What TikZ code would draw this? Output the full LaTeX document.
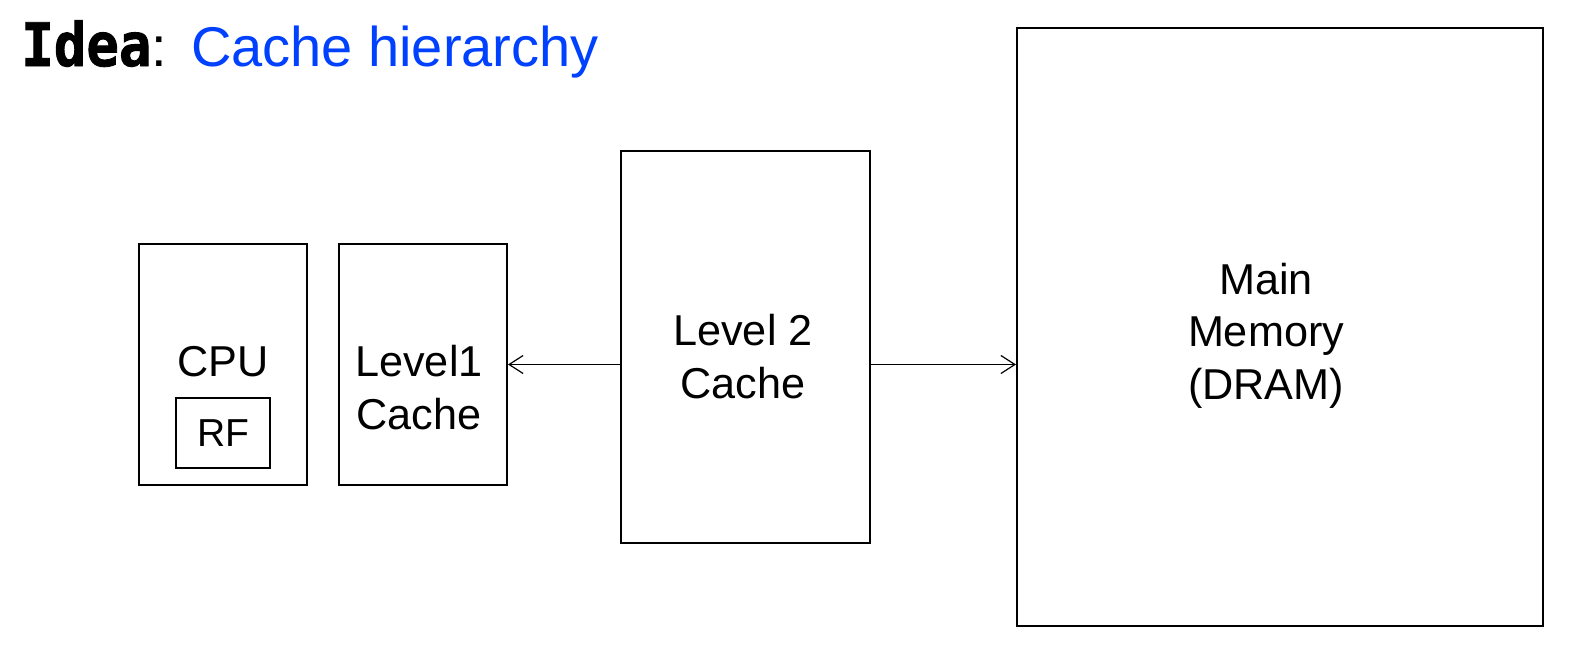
\documentclass[tikz,border=0pt]{standalone}
\usepackage{fontspec}
\setmainfont{Liberation Sans}
\newfontfamily\ideafont{DejaVu Sans Mono}[FakeStretch=0.9,FakeBold=1.5]
\usepackage{tikz}
\usetikzlibrary{arrows.meta,positioning,calc}
\definecolor{titleBlue}{HTML}{0040FF}

\begin{document}
\begin{tikzpicture}[
            x=0.5pt, y=-0.5pt,
            unit/.style={
                    rectangle,
                    draw=black,
                    line width=1pt,
                    inner sep=0pt,
                    minimum width=84pt,
                    minimum height=120.5pt
                },
            lbl/.style={
                    align=center,
                    inner sep=0pt,
                    font=\fontsize{21.6}{26.25}\selectfont
                },
            arrow/.style={
                    ->,
                    >={Straight Barb[length=7pt,width=9pt]},
                    line width=0.6pt
                }
        ]

        \useasboundingbox (0,0) rectangle (1594,648);

        % Title
        \node[anchor=base west, inner sep=0pt, font=\fontsize{28}{34}\selectfont] (title) at (21,66)
            {{\ideafont\fontsize{30}{34}\selectfont\bfseries Idea}:\hspace{12pt}\textcolor{titleBlue}{Cache hierarchy}};

        % CPU
        \node[unit] (cpu) at (223,364.5) {};
        \node[unit, minimum width=47pt, minimum height=35pt, below=16.25pt of cpu.center] (rf) {};

        % Caches
        \node[unit, right=15pt of cpu] (l1) {};
        \node[unit, minimum width=124.5pt, minimum height=196pt, right=56pt of l1, yshift=8.75pt] (l2) {};

        % Memory
        \node[unit, minimum width=263pt, minimum height=299pt, right=72.5pt of l2, yshift=10pt] (mem) {};

        % Labels
        \node[lbl, anchor=base] (cpuText) at (223,376) {CPU};
        \node[lbl, anchor=base, font=\fontsize{19.5}{22}\selectfont] (rfText) at (223,446) {RF};
        \node[lbl, anchor=base] (l1Text) at (419,429) {Level1\\Cache};
        \node[lbl, anchor=base] (l2Text) at (743,398) {Level 2\\Cache};
        \node[lbl, anchor=base] (memText) at (1266,399) {Main\\Memory\\(DRAM)};

        % Connections
        \draw[arrow] (l2.west |- l1.east) -- (l1.east);
        \draw[arrow] (l2.east |- l1.east) -- (mem.west |- l1.east);

    \end{tikzpicture}
\end{document}
